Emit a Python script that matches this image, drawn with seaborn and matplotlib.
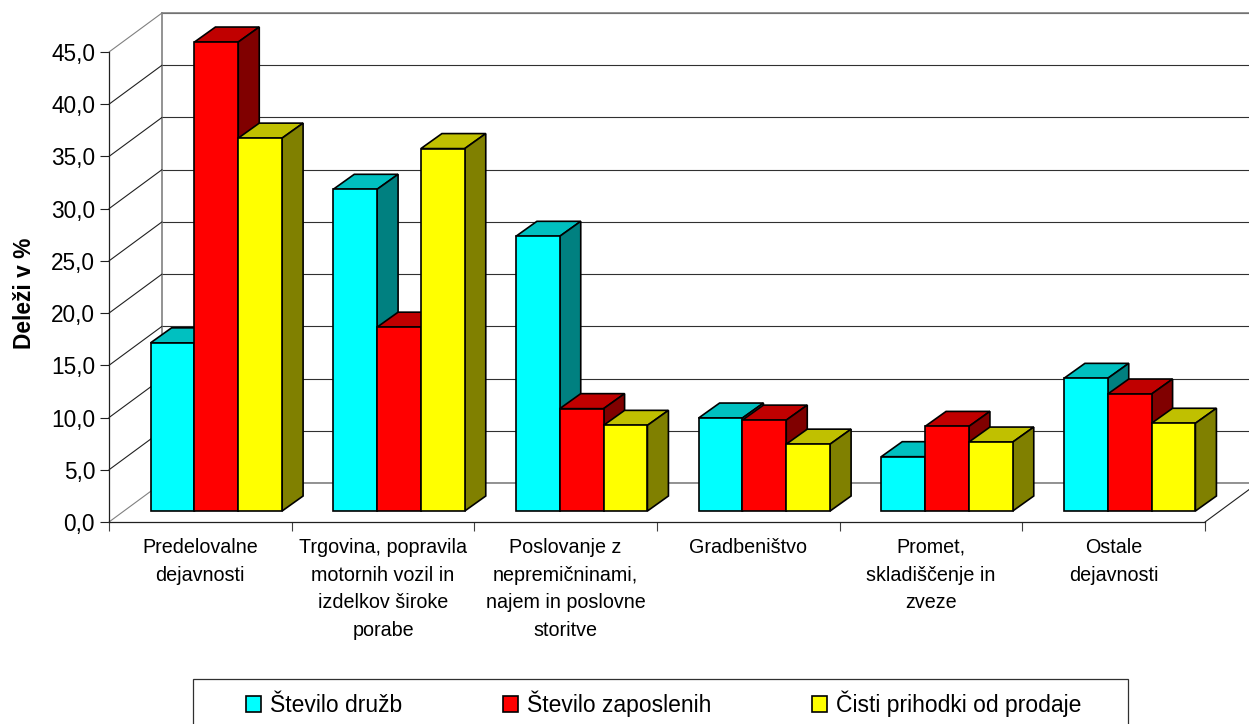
import matplotlib
matplotlib.use('Agg')
import matplotlib.pyplot as plt
import numpy as np
import pandas as pd
import seaborn as sns
from matplotlib.patches import Polygon, Rectangle

categories = ['Predelovalne\ndejavnosti',
              'Trgovina, popravila\nmotornih vozil in\nizdelkov široke\nporabe',
              'Poslovanje z\nnepremičninami,\nnajem in poslovne\nstoritve',
              'Gradbeništvo',
              'Promet,\nskladiščenje in\nzveze',
              'Ostale\ndejavnosti']
stevilo_druzb = [16.1, 30.8, 26.3, 8.9, 5.2, 12.7]
stevilo_zaposlenih = [44.9, 17.6, 9.8, 8.7, 8.1, 11.2]
cisti_prihodki = [35.7, 34.7, 8.2, 6.4, 6.6, 8.4]
series_names = ['Število družb', 'Število zaposlenih', 'Čisti prihodki od prodaje']
y_ticks = [0, 5, 10, 15, 20, 25, 30, 35, 40, 45]
y_labels = ['0,0', '5,0', '10,0', '15,0', '20,0', '25,0', '30,0', '35,0', '40,0', '45,0']

front_colors = ['#00FFFF', '#FF0000', '#FFFF00']
top_colors = ['#00C0C0', '#C00000', '#C0C000']
side_colors = ['#008080', '#800000', '#808000']

df = pd.DataFrame({
    'kategorija': categories * 3,
    'serija': np.repeat(series_names, 6),
    'delez': stevilo_druzb + stevilo_zaposlenih + cisti_prihodki,
})

sns.set_theme(style='white')
plt.rcParams['font.family'] = ['Liberation Sans', 'DejaVu Sans']

W, H = 1249, 724
fig = plt.figure(figsize=(W / 100, H / 100), dpi=100)


# axes from pixel box of the original picture
def px_axes(left, right, bottom, top):
    return fig.add_axes([left / W, 1 - bottom / H, (right - left) / W, (bottom - top) / H])


# back wall with the gridlines
ax_back = px_axes(162, 1258, 483, 13)
ax_back.set_xlim(0, 6)
ax_back.set_ylim(0, 45)
ax_back.set_xticks([])
ax_back.set_yticks(y_ticks)
ax_back.tick_params(left=False, labelleft=False)
ax_back.grid(axis='y', color='#303030', lw=0.8)
sns.despine(ax=ax_back, right=True, top=False, bottom=False)
for side in ['left', 'top', 'bottom']:
    ax_back.spines[side].set_color('#808080')
    ax_back.spines[side].set_linewidth(1.2)

# front plane with the axes
ax_front = px_axes(109, 1205, 522, 52)
ax_front.set_facecolor('none')
ax_front.set_xlim(0, 6)
ax_front.set_ylim(0, 45)
ax_front.set_yticks(y_ticks, labels=y_labels)
ax_front.set_xticks(range(7), labels=[])
ax_front.set_xticks(np.arange(6) + 0.5, labels=categories, minor=True)
ax_front.tick_params(axis='y', which='major', left=True, length=6.5, width=0.8, color='#202020',
                     labelsize=16.3, pad=3.5, labelcolor='black')
ax_front.tick_params(axis='x', which='major', bottom=True, length=6.5, width=0.8, color='#404040')
ax_front.tick_params(axis='x', which='minor', bottom=False, length=0, labelsize=14.2, pad=11.5,
                     labelcolor='black')
for lab in ax_front.get_xticklabels(minor=True):
    lab.set_linespacing(1.58)
sns.despine(ax=ax_front)
for side in ['left', 'bottom']:
    ax_front.spines[side].set_color('#202020')
    ax_front.spines[side].set_linewidth(0.9)
ax_front.set_ylabel('Deleži v %', fontsize=16.4, fontweight='bold', color='black')
ax_front.yaxis.set_label_coords(-0.0665, 0.487)

# slanted lines joining front plane and back wall
wall_dx = 53 / (1096 / 6)
wall_dy = 39 / (470 / 45)
for v in y_ticks:
    col = '#808080' if v in (0, 45) else '#202020'
    ax_front.plot([0, wall_dx], [v, v + wall_dy], color=col, lw=0.8, clip_on=False)
ax_front.plot([6, 6 + wall_dx], [0, wall_dy], color='#202020', lw=0.8, clip_on=False)

# bars stand in the middle of the floor
ax_bars = px_axes(125, 1221, 511, 41)
sns.barplot(data=df, x='kategorija', y='delez', hue='serija', order=categories,
            hue_order=series_names, palette=front_colors, saturation=1, width=0.72,
            edgecolor='black', linewidth=1.2, ax=ax_bars)
ax_bars.set_ylim(0, 45)
ax_bars.set_xlim(-0.5, 5.5)

bar_dx = 21 / (1096 / 6)
bar_dy = 15 / (470 / 45)
for i, cont in enumerate(ax_bars.containers):
    for bar in cont:
        x0, w, h = bar.get_x(), bar.get_width(), bar.get_height()
        bar.set_zorder(10 + 2 * i + 1)
        bar.set_clip_on(False)
        top = [(x0, h), (x0 + w, h), (x0 + w + bar_dx, h + bar_dy), (x0 + bar_dx, h + bar_dy)]
        side = [(x0 + w, 0), (x0 + w, h), (x0 + w + bar_dx, h + bar_dy), (x0 + w + bar_dx, bar_dy)]
        for pts, col in [(top, top_colors[i]), (side, side_colors[i])]:
            ax_bars.add_patch(Polygon(pts, closed=True, facecolor=col, edgecolor='black', lw=1.2,
                                      zorder=10 + 2 * i, clip_on=False))

sns.move_legend(ax_bars, 'center left', bbox_to_anchor=(225.5 / W, 1 - 704 / H),
                bbox_transform=fig.transFigure, ncol=3, title=None, frameon=False, fontsize=16.5,
                handlelength=0.66, handleheight=0.66, handletextpad=0.4, columnspacing=4.37,
                borderpad=0.4, labelcolor='black')
ax_bars.axis('off')

# legend box runs off the bottom of the picture
fig.add_artist(Rectangle((193 / W, 1 - 740 / H), 935 / W, 61 / H, transform=fig.transFigure,
                         facecolor='none', edgecolor='#303030', lw=0.9))

fig.savefig('out.png', dpi=100)
